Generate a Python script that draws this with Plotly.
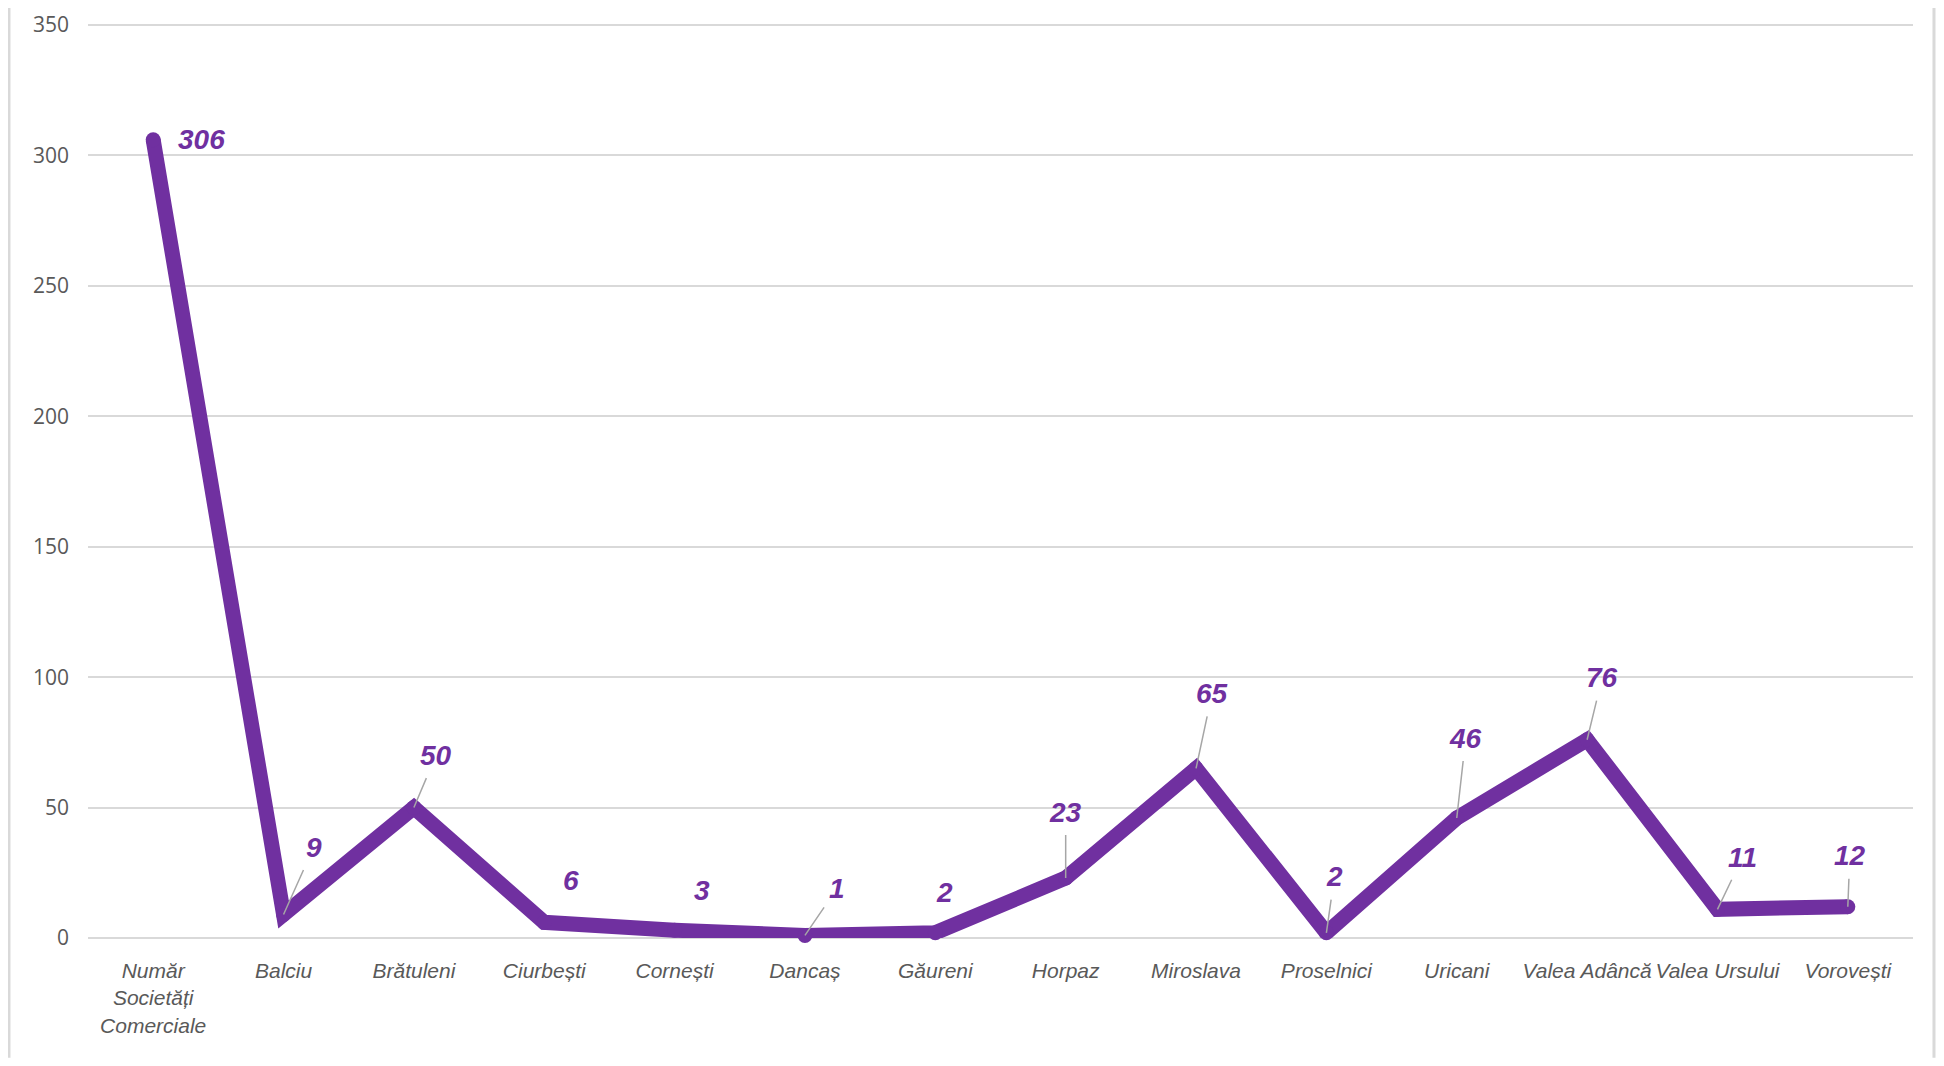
import plotly.graph_objects as go

categories = ["Număr<br>Societăți<br>Comerciale", "Balciu", "Brătuleni", "Ciurbești", "Cornești",
              "Dancaș", "Găureni", "Horpaz", "Miroslava", "Proselnici", "Uricani",
              "Valea Adâncă", "Valea Ursului", "Vorovești"]
values = [306, 9, 50, 6, 3, 1, 2, 23, 65, 2, 46, 76, 11, 12]
y_ticks = [0, 50, 100, 150, 200, 250, 300, 350]

# label offsets (px) from each point and whether a leader line is drawn
label_dx = [48, 30, 22, 27, 27, 32, 9, 0, 16, 8, 9, 15, 25, 2]
label_dy = [0, -67, -52, -42, -40, -47, -40, -66, -75, -56, -80, -62, -52, -51]
leader = [False, True, True, False, False, True, False, True, True, True, True, True, True, True]

PURPLE = "#7030A0"
GRID = "#d9d9d9"
TXT = "#595959"
LAB = "Liberation Sans, Arial, sans-serif"

fig = go.Figure()
fig.add_trace(go.Scatter(
    x=categories, y=values, mode="lines+markers",
    line=dict(color=PURPLE, width=15),
    marker=dict(color=PURPLE, size=15, line=dict(width=0)),
    hoverinfo="x+y", showlegend=False, cliponaxis=False,
))

annotations = []
for c, v, dx, dy, ld in zip(categories, values, label_dx, label_dy, leader):
    txt = str(v)
    font = dict(family=LAB, size=28, color=PURPLE, weight="bold", style="italic")
    if ld:
        annotations.append(dict(
            x=c, y=v, xref="x", yref="y", text=txt, font=font,
            showarrow=True, arrowhead=0, arrowwidth=1.5, arrowcolor="#a6a6a6",
            ax=dx, ay=dy, standoff=0, startstandoff=6,
        ))
    else:
        annotations.append(dict(
            x=c, y=v, xref="x", yref="y", text=txt, font=font,
            showarrow=False, xshift=dx, yshift=-dy,
        ))

fig.update_layout(
    width=1928, height=1050,
    margin=dict(l=80, r=23, t=16, b=120),
    paper_bgcolor="white", plot_bgcolor="white",
    annotations=annotations,
    xaxis=dict(
        type="category", range=[-0.5, len(categories) - 0.5],
        showgrid=False, showline=False, zeroline=False, automargin=False,
        tickfont=dict(family=LAB, size=21, color=TXT, style="italic"),
        tickangle=0, ticks="", ticklabelstandoff=18,
    ),
    yaxis=dict(
        range=[0, 350.4], tickvals=y_ticks, automargin=False,
        showgrid=True, gridcolor=GRID, gridwidth=2,
        zeroline=True, zerolinecolor=GRID, zerolinewidth=2,
        showline=False,
        tickfont=dict(family="Open Sans, sans-serif", size=21, color=TXT),
        ticks="", ticklabelstandoff=18,
    ),
    shapes=[
        dict(type="line", xref="paper", yref="paper", x0=-0.0433, x1=-0.0433,
             y0=-0.131, y1=1.03, line=dict(color=GRID, width=3)),
        dict(type="line", xref="paper", yref="paper", x0=1.0115, x1=1.0115,
             y0=-0.131, y1=1.03, line=dict(color=GRID, width=3)),
    ],
)

fig.write_html("out.html")
